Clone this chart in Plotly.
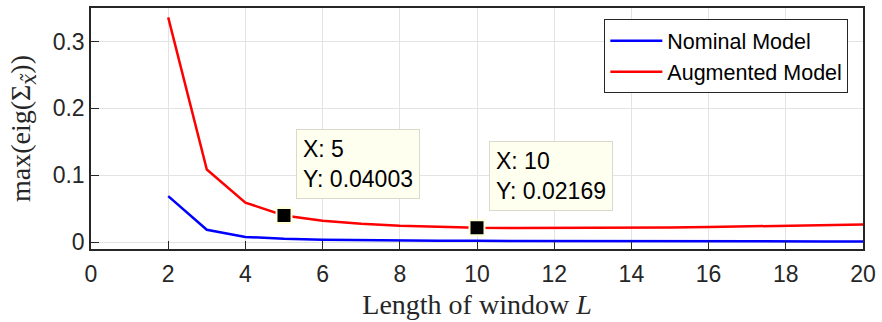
import plotly.graph_objects as go

# Window lengths and the largest eigenvalue of the estimation error covariance
window_len = list(range(2, 21))
nominal = [0.069, 0.0188, 0.008, 0.0052, 0.0040, 0.0032, 0.0027, 0.0024, 0.0022,
           0.0020, 0.0019, 0.0018, 0.0017, 0.0016, 0.0015, 0.0014, 0.0014, 0.0013, 0.0013]
augmented = [0.336, 0.1087, 0.0593, 0.04003, 0.0322, 0.0278, 0.0248, 0.0228, 0.02169,
             0.0215, 0.0215, 0.0216, 0.0219, 0.0223, 0.0228, 0.0236, 0.0245, 0.0255, 0.0267]

# Data tips: (L, value) on the augmented curve, with the label text shown beside each
tips_x = [5, 10]
tips_y = [0.04003, 0.02169]
tips_label = ["0.04003", "0.02169"]
tip_box_pos = [(5.32, 0.170), (10.3, 0.152)]

TEXT = "#262626"
SANS = "Liberation Sans, Arial"
SERIF = "Liberation Serif, serif"

fig = go.Figure()
fig.add_trace(go.Scatter(x=window_len, y=nominal, mode="lines", name="Nominal Model",
                         line=dict(color="#0000FF", width=2.5)))
fig.add_trace(go.Scatter(x=window_len, y=augmented, mode="lines", name="Augmented Model",
                         line=dict(color="#FF0000", width=2.5)))
fig.add_trace(go.Scatter(x=tips_x, y=tips_y, mode="markers", showlegend=False,
                         marker=dict(symbol="square", size=15, color="black",
                                     line=dict(color="#FFFFD8", width=2))))

for tx, lbl, (bx, by) in zip(tips_x, tips_label, tip_box_pos):
    fig.add_annotation(x=bx, y=by, xref="x", yref="y", xanchor="left", yanchor="top",
                       text=f"X: {tx}<br>Y: {lbl}",
                       showarrow=False, align="left", bgcolor="#FFFFF0",
                       bordercolor="#D9D9CC", borderwidth=1, borderpad=6,
                       font=dict(family=SANS, size=23, color="black"))

axis_common = dict(showline=True, linecolor=TEXT, linewidth=1.5, mirror=True,
                   ticks="inside", ticklen=8, tickcolor=TEXT, showgrid=True,
                   gridcolor="#E3E3E3", gridwidth=1, zeroline=False,
                   tickfont=dict(family=SANS, size=23, color=TEXT))

fig.update_layout(
    width=882, height=322,
    margin=dict(l=90.5, r=14.5, t=6, b=73),
    paper_bgcolor="white", plot_bgcolor="white",
    xaxis=dict(range=[0, 20], dtick=2, ticklabelstandoff=4,
               title=dict(text="Length of window <i>L</i>", standoff=8,
                          font=dict(family=SERIF, size=28, color=TEXT)),
               **axis_common),
    yaxis=dict(range=[-0.01, 0.35], tickvals=[0, 0.1, 0.2, 0.3],
               ticktext=["0", "0.1", "0.2", "0.3"],
               title=dict(text="max(eig(Σ<sub><i><span style=\"font-family:'DejaVu Serif'\">x̃</span></i></sub>))",
                          standoff=14,
                          font=dict(family=SERIF, size=28, color=TEXT)),
               **axis_common),
    legend=dict(x=0.981, y=0.800, xanchor="right", yanchor="middle",
                bgcolor="white", bordercolor=TEXT, borderwidth=1,
                font=dict(family=SANS, size=21.5, color="black"),
                itemwidth=52, tracegroupgap=0),
    showlegend=True,
)

fig.write_html("out.html")
